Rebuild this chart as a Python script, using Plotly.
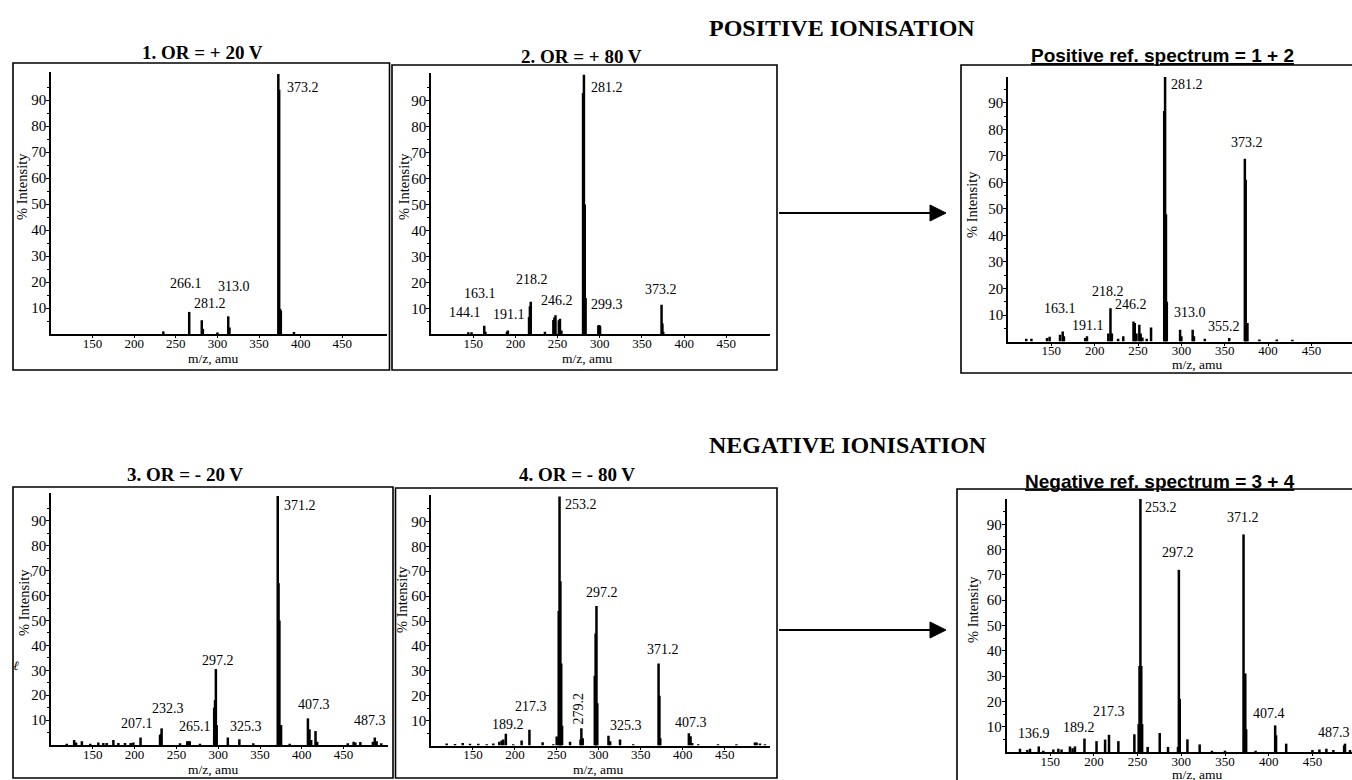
import plotly.graph_objects as go

W, H = 1352, 780

# ------------------------------------------------------------------ data
# 1. OR = +20 V
A_MZ = [235, 266.1, 281.2, 282.5, 300, 313.0, 314.5, 373.2, 374.2, 375.3, 376.2, 392]
A_INT = [1.0, 8.5, 5.3, 2.0, 0.6, 6.8, 2.5, 100, 94, 9.7, 9.0, 0.8]
A_LBL = ["373.2", "266.1", "313.0", "281.2"]
A_LBL_X = [402.9, 262.3, 320.0, 291.1]
A_LBL_Y = [95.0, 19.6, 18.1, 11.9]

# 2. OR = +80 V
B_MZ = [144.1, 148, 163.1, 164.5, 190, 191.1, 216.2, 217.2, 218.2, 235,
        245, 246.2, 247.5, 251.5, 252.8, 254.5, 280.2, 281.2, 282.2, 283.2,
        298.3, 299.3, 300.3, 373.2, 374.2, 375.2]
B_INT = [0.8, 0.8, 3.3, 1.0, 1.0, 1.5, 6.7, 10.8, 12.5, 1.0,
         5.5, 6.5, 7.3, 5.4, 6.0, 1.5, 93, 100, 50, 14,
         3.4, 3.6, 3.2, 11.4, 4.2, 1.0]
B_LBL = ["281.2", "218.2", "163.1", "246.2", "144.1", "191.1", "299.3", "373.2"]
B_LBL_X = [308.2, 219.7, 158.6, 248.9, 139.9, 192.4, 309.1, 372.3]
B_LBL_Y = [95.2, 21.3, 15.9, 13.2, 8.3, 7.8, 11.3, 17.1]

# Positive ref. spectrum = 1 + 2
C_MZ = [121, 127, 145, 148, 160, 163.1, 164.5, 189, 191.1, 215.7,
        218.2, 219.8, 227, 233, 244.8, 246.2, 248.2, 251.5, 253, 255,
        260, 265, 280.2, 281.2, 282.2, 283.2, 298.5, 300, 313.0, 314.5,
        327, 355.2, 373.2, 374.2, 375.2, 376.2, 390, 410, 428]
C_INT = [1.0, 1.0, 1.3, 1.8, 2.5, 3.8, 2.0, 1.3, 2.0, 3.0,
         12.5, 3.0, 1.0, 2.0, 7.5, 7.0, 3.0, 6.3, 3.0, 1.5,
         1.0, 5.3, 87, 100, 48, 15, 4.4, 2.0, 4.4, 2.0,
         1.0, 1.3, 69, 61, 7.0, 7.0, 0.8, 0.8, 0.7]
C_LBL = ["281.2", "373.2", "218.2", "246.2", "163.1", "191.1", "313.0", "355.2"]
C_LBL_X = [307.0, 375.3, 214.8, 241.6, 160.0, 191.7, 309.9, 349.1]
C_LBL_Y = [96.8, 74.9, 18.7, 13.8, 12.6, 6.2, 10.8, 5.5]

# 3. OR = -20 V
D_MZ = [118.8, 127.7, 130, 136.9, 146.9, 156.6, 162.6, 166.6, 174.6, 180.6,
        188.5, 195.3, 198.5, 207.1, 230.4, 231.4, 232.3, 254.3, 263, 264.5,
        266, 278.2, 295.2, 296.2, 297.2, 298.2, 311.5, 325.3, 342, 371.2,
        372.2, 373.2, 374.2, 375.2, 385.5, 407.3, 409.2, 411.2, 416.4, 418.4,
        455, 462, 464, 470, 485, 487.3, 489.5, 495]
D_INT = [0.5, 2.0, 1.0, 1.5, 0.5, 1.0, 0.8, 0.8, 2.0, 0.8,
         0.8, 0.8, 1.0, 3.0, 4.0, 4.5, 6.7, 0.7, 1.5, 1.5,
         1.5, 0.5, 15, 18, 30.5, 8.0, 3.0, 2.3, 0.7, 100,
         65, 50, 8.0, 8.0, 0.5, 10.7, 6.3, 2.0, 5.6, 1.3,
         0.7, 1.3, 1.0, 1.2, 1.3, 3.0, 1.5, 0.7]
D_LBL = ["371.2", "297.2", "232.3", "207.1", "265.1", "325.3", "407.3", "487.3"]
D_LBL_X = [398.2, 299.2, 240.3, 203.1, 272.8, 333.0, 414.6, 481.6]
D_LBL_Y = [96.0, 34.1, 14.7, 8.7, 7.6, 7.6, 16.3, 10.0]

# 4. OR = -80 V
E_MZ = [118.7, 128.6, 137.8, 146.5, 156.4, 166.4, 174.3, 181.4, 184.2, 186.2,
        189.2, 198, 208, 217.3, 233, 245.8, 249.8, 252.2, 253.2, 254.2,
        255.2, 256.2, 265.7, 278.2, 279.2, 280.8, 295.2, 296.2, 297.2, 298.2,
        311.5, 313.5, 325.3, 341, 371.2, 372.2, 373.2, 407.3, 409.3, 411.3,
        418.5, 442, 464, 486, 488, 492, 498]
E_INT = [0.8, 0.6, 1.0, 0.7, 0.7, 0.5, 0.8, 1.5, 2.0, 2.4,
         4.8, 0.5, 2.0, 6.4, 1.3, 0.5, 3.7, 54, 100, 66,
         33, 8, 1.5, 2.4, 7.0, 3.0, 28, 45, 56, 17,
         4.0, 1.7, 2.4, 0.5, 33, 20, 3.0, 5.0, 3.8, 1.0,
         0.5, 0.5, 0.5, 1.2, 1.2, 0.8, 0.5]
E_LBL = ["253.2", "297.2", "371.2", "217.3", "189.2", "279.2", "325.3", "407.3"]
E_LBL_X = [278.5, 303.5, 375.9, 219.2, 191.2, 275.6, 331.8, 409.9]
E_LBL_Y = [96.6, 61.3, 38.7, 15.6, 8.3, 15.0, 7.9, 9.2]
E_LBL_ROT = [0, 0, 0, 0, 0, -90, 0, 0]

# Negative ref. spectrum = 3 + 4
F_MZ = [115.4, 123.8, 126.9, 136.9, 142.1, 153.6, 159.3, 163, 172.6, 175.6,
        178.3, 189.2, 203, 212.8, 217.3, 228, 246.3, 251.2, 252.2, 253.2,
        254.2, 255.2, 261.5, 275.3, 284.8, 296.2, 297.2, 298.2, 307, 321,
        335, 350, 371.2, 372.2, 373.2, 374.2, 385, 407.4, 408.4, 420,
        450, 458, 466, 474, 486.3, 487.3, 493]
F_INT = [1.3, 0.8, 1.3, 2.2, 0.5, 1.0, 1.3, 1.0, 2.2, 1.5,
         2.2, 5.3, 4.3, 4.9, 6.8, 4.3, 7.0, 11, 34, 100,
         34, 11, 2.0, 7.5, 2.0, 2.0, 72, 21, 5.0, 3.0,
         0.5, 0.5, 86, 31, 31, 9.0, 0.5, 10.5, 6.6, 3.3,
         0.8, 1.0, 1.3, 0.8, 2.6, 3.3, 0.8]
F_LBL = ["253.2", "371.2", "297.2", "217.3", "407.4", "136.9", "189.2", "487.3"]
F_LBL_X = [276.4, 370.6, 296.6, 216.7, 400.0, 131.7, 183.5, 474.5]
F_LBL_Y = [96.7, 92.6, 78.9, 15.9, 15.3, 7.4, 9.8, 7.6]

X_TICKS = [150, 200, 250, 300, 350, 400, 450]
Y_TICKS = [10, 20, 30, 40, 50, 60, 70, 80, 90]
Y_MINOR = [5, 15, 25, 35, 45, 55, 65, 75, 85, 95]

TITLES = ["1. OR = + 20 V", "2. OR = + 80 V", "Positive ref. spectrum = 1 + 2",
          "3. OR = - 20 V", "4. OR = - 80 V", "Negative ref. spectrum = 3 + 4"]
HEADERS = ["POSITIVE IONISATION", "NEGATIVE IONISATION"]

# ------------------------------------------------------------------ layout (pixels)
SERIF = "Liberation Serif"
SANS = "Liberation Sans"

panels = [
    dict(mz=A_MZ, it=A_INT, lt=A_LBL, lx=A_LBL_X, ly=A_LBL_Y,
         px=(51, 387, 334, 72), xr=(100, 503.8), yr=(0, 100.8),
         box=(13, 63, 389.5, 370), title=(202, 53), ylab=(22, 187), xlab=(213, 359)),
    dict(mz=B_MZ, it=B_INT, lt=B_LBL, lx=B_LBL_X, ly=B_LBL_Y,
         px=(431, 770, 334.3, 73), xr=(100, 501.7), yr=(0, 100.7),
         box=(392, 65, 777, 370), title=(581, 57), ylab=(404, 187), xlab=(587, 359)),
    dict(mz=C_MZ, it=C_INT, lt=C_LBL, lx=C_LBL_X, ly=C_LBL_Y,
         px=(1008, 1352, 341.5, 77), xr=(100, 496.8), yr=(0, 99.8),
         box=(961, 65, 1365, 373), title=(1162, 56), ylab=(972, 205), xlab=(1197, 364)),
    dict(mz=D_MZ, it=D_INT, lt=D_LBL, lx=D_LBL_X, ly=D_LBL_Y,
         px=(51, 388, 745, 493), xr=(100, 503.1), yr=(0, 101.2),
         box=(13, 487, 393, 778), title=(185, 475), ylab=(24, 603), xlab=(213, 769)),
    dict(mz=E_MZ, it=E_INT, lt=E_LBL, lx=E_LBL_X, ly=E_LBL_Y, rot=E_LBL_ROT,
         px=(431, 770, 745.6, 495), xr=(100, 504), yr=(0, 100.6),
         box=(395.5, 488, 777, 778), title=(577, 475), ylab=(402, 600), xlab=(598, 769)),
    dict(mz=F_MZ, it=F_INT, lt=F_LBL, lx=F_LBL_X, ly=F_LBL_Y,
         px=(1006.5, 1352, 752, 499), xr=(100, 495.3), yr=(0, 100.0),
         box=(957, 489, 1365, 790), title=(1160, 481), ylab=(973, 610), xlab=(1197, 774)),
]


def fx(p):
    return p / W


def fy(p):
    return 1 - p / H


fig = go.Figure()
layout = dict(
    width=W, height=H, margin=dict(l=0, r=0, t=0, b=0),
    paper_bgcolor="white", plot_bgcolor="white", showlegend=False,
    font=dict(family=SERIF, size=14, color="black"),
)
annotations = []
shapes = []

for i, p in enumerate(panels):
    n = "" if i == 0 else str(i + 1)
    xs, ys = [], []
    for m, h in zip(p["mz"], p["it"], strict=True):
        xs += [m, m, None]
        ys += [0, h, None]
    fig.add_trace(go.Scatter(x=xs, y=ys, mode="lines",
                             line=dict(color="black", width=2.5),
                             xaxis="x" + n, yaxis="y" + n, hoverinfo="skip"))
    x0, x1, y0, y1 = p["px"]
    layout["xaxis" + n] = dict(
        domain=[fx(x0), fx(x1)], range=list(p["xr"]), anchor="y" + n,
        showline=True, linecolor="black", linewidth=2, showgrid=False, zeroline=False,
        tickvals=X_TICKS, ticks="outside", ticklen=2, tickwidth=1, tickcolor="black",
        ticklabelstandoff=-6, tickfont=dict(family=SERIF, size=13, color="black"),
        fixedrange=True,
    )
    layout["yaxis" + n] = dict(
        domain=[fy(y0), fy(y1)], range=list(p["yr"]), anchor="x" + n,
        showline=True, linecolor="black", linewidth=1.8, showgrid=False, zeroline=False,
        tickvals=Y_TICKS, ticks="outside", ticklen=3, tickwidth=1, tickcolor="black",
        ticklabelstandoff=-3, tickfont=dict(family=SERIF, size=15, color="black"),
        minor=dict(tickvals=Y_MINOR, ticks="outside", ticklen=2, tickcolor="black"),
        fixedrange=True,
    )
    rots = p.get("rot", [0] * len(p["lt"]))
    for t, lx, ly, r in zip(p["lt"], p["lx"], p["ly"], rots, strict=True):
        annotations.append(dict(text=t, x=lx, y=ly, xref="x" + n, yref="y" + n,
                                showarrow=False, xanchor="center", yanchor="middle",
                                textangle=r, font=dict(family=SERIF, size=14, color="black")))
    # box
    bx0, by0, bx1, by1 = p["box"]
    shapes.append(dict(type="rect", xref="paper", yref="paper",
                       x0=fx(bx0), x1=fx(bx1), y0=fy(by1), y1=fy(by0),
                       line=dict(color="black", width=1.6)))
    # title
    tx, ty = p["title"]
    if i in (2, 5):
        ttext = "<b><u>" + TITLES[i] + "</u></b>"
        tfont = dict(family=SANS, size=19, color="black")
    else:
        ttext = "<b>" + TITLES[i] + "</b>"
        tfont = dict(family=SERIF, size=19, color="black")
    annotations.append(dict(text=ttext, x=fx(tx), y=fy(ty), xref="paper", yref="paper",
                            showarrow=False, xanchor="center", yanchor="middle", font=tfont))
    # axis titles
    yx, yy = p["ylab"]
    annotations.append(dict(text="% Intensity", x=fx(yx), y=fy(yy), xref="paper", yref="paper",
                            showarrow=False, textangle=-90, xanchor="center", yanchor="middle",
                            font=dict(family=SERIF, size=14.5, color="black")))
    xx, xy = p["xlab"]
    annotations.append(dict(text="m/z, amu", x=fx(xx), y=fy(xy), xref="paper", yref="paper",
                            showarrow=False, xanchor="center", yanchor="middle",
                            font=dict(family=SERIF, size=13.5, color="black")))

# section headers
for txt, hy in zip(HEADERS, [28, 445]):
    annotations.append(dict(text="<b>" + txt + "</b>", x=fx(707), y=fy(hy),
                            xref="paper", yref="paper", showarrow=False,
                            xanchor="left", yanchor="middle",
                            font=dict(family=SERIF, size=24, color="black")))

# arrows
for ay in [213, 630]:
    shapes.append(dict(type="line", xref="paper", yref="paper",
                       x0=fx(779), x1=fx(933), y0=fy(ay), y1=fy(ay),
                       line=dict(color="black", width=2)))
    path = "M {:.5f} {:.5f} L {:.5f} {:.5f} L {:.5f} {:.5f} Z".format(
        fx(930), fy(ay - 8), fx(946), fy(ay), fx(930), fy(ay + 8))
    shapes.append(dict(type="path", xref="paper", yref="paper", path=path,
                       fillcolor="black", line=dict(color="black", width=1)))

# small scan mark at left edge
annotations.append(dict(text="ℓ", x=fx(9), y=fy(676), xref="paper", yref="paper",
                        showarrow=False, textangle=15,
                        font=dict(family=SERIF, size=13, color="black")))

layout["annotations"] = annotations
layout["shapes"] = shapes
fig.update_layout(**layout)
fig.write_html(
    "out.html",
    config={"displayModeBar": False, "staticPlot": True},
    post_script="document.body.style.margin='0';document.body.style.overflow='hidden';",
)
